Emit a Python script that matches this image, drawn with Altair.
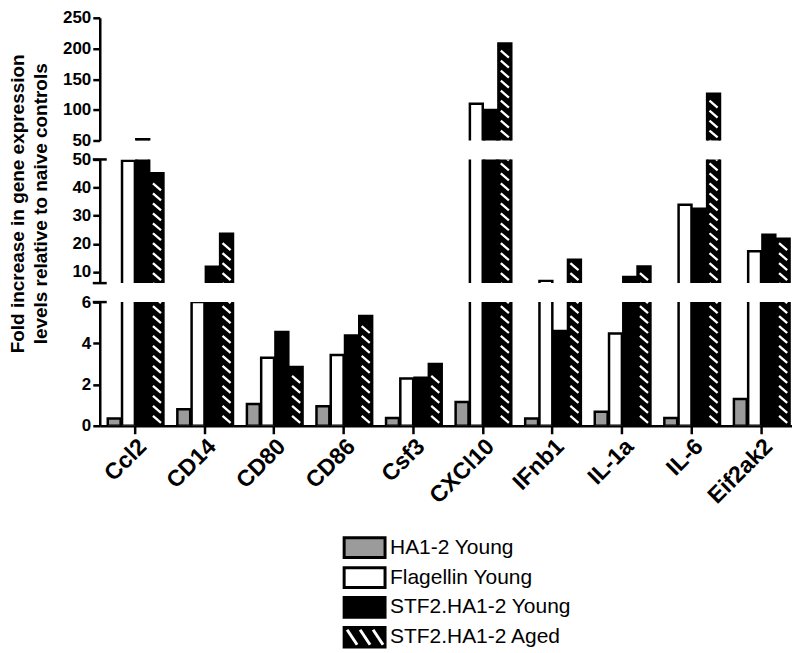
import json
import altair as alt
import pandas as pd

# ---------------- data ----------------
genes = ["Ccl2", "CD14", "CD80", "CD86", "Csf3", "CXCl10", "IFnb1", "IL-1a", "IL-6", "Eif2ak2"]
series = ["HA1-2 Young", "Flagellin Young", "STF2.HA1-2 Young", "STF2.HA1-2 Aged"]
ha12_young = [0.35, 0.8, 1.05, 0.95, 0.38, 1.15, 0.35, 0.68, 0.38, 1.3]
flagellin_young = [49.5, 6.0, 3.3, 3.43, 2.29, 110, 6.8, 4.48, 33.9, 17.3]
stf2_young = [52, 11.8, 4.55, 4.38, 2.33, 99.5, 4.6, 8.2, 32.5, 23.2]
stf2_aged = [45.1, 23.6, 2.85, 5.33, 3.0, 208, 14.3, 11.9, 126, 21.8]
values = [ha12_young, flagellin_young, stf2_young, stf2_aged]
y_title = ["Fold increase in gene expression", "levels relative to naive controls"]

# ---------------- layout / style ----------------
W = 694
XDOM = [0, 9.95]
OFF, STRIDE, BW = -0.385, 0.205, 0.185
FILLS = ["#9b9b9b", "#ffffff", "#000000", "#000000"]
FONT = "Liberation Sans"
PX = W / (XDOM[1] - XDOM[0])
GAP = 19

rows = []
for k, s in enumerate(series):
    for i, g in enumerate(genes):
        x0 = i + 0.5 + OFF + k * STRIDE
        rows.append({"gene": g, "series": s, "value": values[k][i], "x0": x0, "x1": x0 + BW})
bars_df = pd.DataFrame(rows)

panels = [
    dict(lo=50, hi=250, base=40, H=123, ticks=[50, 100, 150, 200, 250], caps=[]),
    dict(lo=6, hi=50, base=5, H=124, ticks=[10, 20, 30, 40, 50], caps=[50, 6]),
    dict(lo=0, hi=6, base=0, H=124, ticks=[0, 2, 4, 6], caps=[6]),
]

PITCH, DROP = 10.0, 7.0
INSET = 2.4 / PX


def hatch_df(p):
    lo, hi, H = p["lo"], p["hi"], p["H"]
    u = (hi - lo) / H
    out = []
    for i, v in enumerate(stf2_aged):
        if v <= lo:
            continue
        x0 = i + 0.5 + OFF + 3 * STRIDE
        top = (min(v, hi) - lo) / u
        cont = v > hi
        s = 3.0 if lo == 0 else -DROP
        limit = H + DROP if cont else top - 2.5 - DROP
        while s <= limit:
            out.append({"hx0": x0 + INSET, "hx1": x0 + BW - INSET,
                        "hy0": lo + (s + DROP) * u, "hy1": lo + s * u})
            s += PITCH
    return pd.DataFrame(out)


label_expr = json.dumps(genes) + "[floor(datum.value)]"
fill_scale = alt.Scale(domain=series, range=FILLS)


def panel(p, idx):
    xs = alt.Scale(domain=XDOM, nice=False, zero=False)
    ys = alt.Scale(domain=[p["lo"], p["hi"]], nice=False, zero=False)
    if idx == 2:
        x_axis = alt.Axis(values=[i + 0.5 for i in range(len(genes))], labelExpr=label_expr,
                          labelAngle=-45, labelAlign="right", labelBaseline="top",
                          labelFontSize=23, labelFontWeight="bold", labelPadding=1,
                          labelFlush=False, labelOverlap=False,
                          tickSize=8, tickWidth=2.5, domainWidth=2.5, title=None, grid=False)
    else:
        x_axis = None
    ykw = dict(values=p["ticks"], tickSize=7, tickWidth=2.5, domainWidth=2.5,
               labelFontSize=17, labelFontWeight="bold", labelPadding=2,
               labelOverlap=False, labelFlush=False, grid=False)
    if idx == 1:
        y_axis = alt.Axis(title=y_title, titleFontSize=19, titleFontWeight="bold",
                          titleX=-76, titleY=44, titleBaseline="alphabetic",
                          titleLineHeight=23, titleAlign="center", titleAngle=270, **ykw)
    else:
        y_axis = alt.Axis(title=None, **ykw)

    bars = alt.Chart(bars_df).transform_filter(
        alt.datum.value > (p["lo"] if p["lo"] > 0 else -1)
    ).mark_rect(stroke="black", strokeWidth=2.5, clip=True).encode(
        x=alt.X("x0:Q", scale=xs, axis=x_axis),
        x2="x1:Q",
        y=alt.Y("value:Q", scale=ys, axis=y_axis),
        y2=alt.datum(p["base"]),
        fill=alt.Fill("series:N", scale=fill_scale, legend=None),
    )
    hatch = alt.Chart(hatch_df(p)).mark_rule(color="white", strokeWidth=2.3, clip=True).encode(
        x=alt.X("hx0:Q", scale=xs, axis=x_axis), x2="hx1:Q",
        y=alt.Y("hy0:Q", scale=ys, axis=y_axis), y2="hy1:Q",
    )
    layers = [bars, hatch]
    if p["caps"]:
        caps = alt.Chart(pd.DataFrame({"c": p["caps"]})).mark_rule(color="black", strokeWidth=2.5).encode(
            y=alt.Y("c:Q", scale=ys, axis=y_axis), x=alt.value(-7), x2=alt.value(7))
        layers.append(caps)
    return alt.layer(*layers).properties(width=W, height=p["H"])


charts = [panel(p, i) for i, p in enumerate(panels)]

# ---------------- legend ----------------
ROW = 30                      # row pitch in pixels
LEAD = 2.95                   # empty rows above the first entry (room for x labels)
LH = int(round((4 + LEAD) * ROW))
LX0, LX1, LTX = 245, 286, 291
leg_df = pd.DataFrame({"series": series, "row": list(range(4))})
leg_df["y0"] = leg_df["row"] + 0.17
leg_df["y1"] = leg_df["row"] + 0.83
leg_df["ym"] = leg_df["row"] + 0.5
ly = alt.Scale(domain=[-LEAD, 4], range=[0, LH], nice=False, zero=False)
lx = alt.Scale(domain=[0, W], range=[0, W], nice=False, zero=False)

leg_rect = alt.Chart(leg_df).mark_rect(stroke="black", strokeWidth=3).encode(
    x=alt.value(LX0), x2=alt.value(LX1),
    y=alt.Y("y0:Q", scale=ly, axis=None), y2="y1:Q",
    fill=alt.Fill("series:N", scale=fill_scale, legend=None),
)
hrows = []
for a in [LX0 + 3, LX0 + 16, LX0 + 29]:
    hrows.append({"hx0": a, "hx1": a + 10, "hy0": 3 + 0.25, "hy1": 3 + 0.75})
leg_hatch = alt.Chart(pd.DataFrame(hrows)).mark_rule(color="white", strokeWidth=3).encode(
    x=alt.X("hx0:Q", scale=lx, axis=None), x2="hx1:Q",
    y=alt.Y("hy0:Q", scale=ly, axis=None), y2="hy1:Q",
)
leg_text = alt.Chart(leg_df).mark_text(align="left", baseline="middle", fontSize=21, font=FONT,
                                       color="black").encode(
    x=alt.value(LTX), y=alt.Y("ym:Q", scale=ly, axis=None), text="series:N")
legend = alt.layer(leg_rect, leg_hatch, leg_text).properties(width=W, height=LH)

chart = alt.vconcat(
    *charts, legend,
    spacing=GAP,
    bounds="flush",
).properties(
    padding={"left": 0, "right": 0, "top": 0, "bottom": 0}
).configure_view(stroke=None).configure_axis(
    domainColor="black", tickColor="black", labelColor="black", titleColor="black",
    labelFont=FONT, titleFont=FONT,
)

chart.save("out.html", embed_options={"renderer": "svg", "actions": False})
